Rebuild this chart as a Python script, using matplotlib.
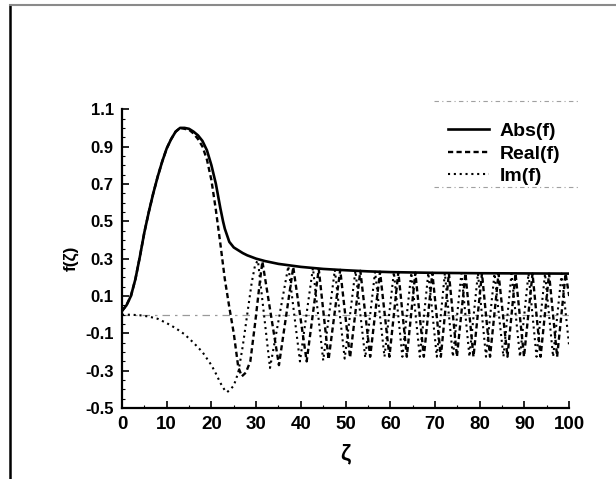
import matplotlib.pyplot as plt
from matplotlib.lines import Line2D
from matplotlib.ticker import MultipleLocator, FixedLocator

# Abs(f)
abs_z = [0, 1, 2, 3, 4, 5, 6, 7, 8, 9, 10, 11, 12, 13, 14, 15, 16, 17, 18, 19, 20, 21, 22,
         22.6, 23, 24, 25, 26, 27, 28, 30, 32, 35, 40, 45, 50, 55, 60, 70, 80, 90, 100]
abs_v = [0.02, 0.05, 0.1, 0.19, 0.31, 0.44, 0.55, 0.65, 0.74, 0.82, 0.89, 0.94, 0.98, 1.0, 1.0,
         0.995, 0.98, 0.96, 0.93, 0.88, 0.8, 0.7, 0.57,
         0.5, 0.46, 0.39, 0.36, 0.345, 0.33, 0.318, 0.3, 0.287, 0.272, 0.256, 0.245, 0.238,
         0.232, 0.228, 0.224, 0.222, 0.221, 0.22]

# Real(f): smooth part, then the peaks / troughs of the oscillation
real_early_z = [0, 1, 2, 3, 4, 5, 6, 7, 8, 9, 10, 11, 12, 13, 14, 15, 16, 17, 18, 19, 20, 21,
                22, 23, 24, 25, 26, 26.8, 27.7, 28.7, 29.8, 30.9, 31.4]
real_early_v = [0.02, 0.05, 0.1, 0.19, 0.31, 0.44, 0.55, 0.65, 0.74, 0.82, 0.89, 0.94, 0.98,
                1.0, 0.995, 0.99, 0.97, 0.94, 0.9, 0.83, 0.72, 0.56, 0.38, 0.19, 0.04, -0.1,
                -0.28, -0.33, -0.31, -0.25, -0.04, 0.19, 0.285]
real_ext_z = [35.1, 38.3, 41.3, 44.0, 46.2, 48.8, 51.0, 53.3, 55.5, 57.7, 59.8, 61.8, 63.7,
              65.6, 67.5, 69.4, 71.3, 73.1, 74.9, 76.8, 78.6, 80.5, 82.3, 84.2, 86.2, 88.0,
              89.9, 91.8, 93.6, 95.5, 97.3, 99.2, 100]
real_ext_v = [-0.27, 0.255, -0.25, 0.245, -0.24, 0.24, -0.23, 0.235, -0.225, 0.23, -0.225,
              0.228, -0.225, 0.225, -0.225, 0.224, -0.225, 0.222, -0.225, 0.222, -0.225, 0.221,
              -0.225, 0.22, -0.225, 0.22, -0.225, 0.22, -0.225, 0.22, -0.225, 0.22, 0.1]

# Im(f)
im_early_z = [0, 2, 4, 6, 8, 10, 12, 14, 16, 18, 20, 21, 22, 23, 23.5, 24.2, 25, 26, 27, 28,
              29, 29.8, 30.4]
im_early_v = [0, 0, -0.003, -0.01, -0.022, -0.045, -0.072, -0.105, -0.15, -0.2, -0.27, -0.315,
              -0.365, -0.405, -0.415, -0.40, -0.38, -0.31, -0.17, 0.0, 0.17, 0.27, 0.29]
im_ext_z = [33.1, 37.2, 39.8, 42.7, 45.0, 47.6, 49.8, 52.2, 54.4, 56.6, 58.7, 60.8, 62.7, 64.7,
            66.6, 68.5, 70.4, 72.2, 74.0, 75.9, 77.7, 79.6, 81.4, 83.3, 85.3, 87.1, 89.0, 90.9,
            92.7, 94.6, 96.4, 98.3, 100]
im_ext_v = [-0.285, 0.26, -0.25, 0.25, -0.245, 0.24, -0.235, 0.235, -0.23, 0.23, -0.225, 0.228,
            -0.225, 0.225, -0.225, 0.224, -0.225, 0.222, -0.225, 0.222, -0.225, 0.221, -0.225,
            0.22, -0.225, 0.22, -0.225, 0.22, -0.225, 0.22, -0.225, 0.22, -0.17]

y_ticks = [-0.5, -0.3, -0.1, 0.1, 0.3, 0.5, 0.7, 0.9, 1.1]
x_ticks = [0, 10, 20, 30, 40, 50, 60, 70, 80, 90, 100]

plt.rcParams['font.family'] = ['Liberation Sans', 'DejaVu Sans']
plt.rcParams['font.weight'] = 'bold'

fig = plt.figure(figsize=(6.16, 4.79), dpi=100)
ax = fig.add_axes([0.198, 0.148, 0.726, 0.624])

ax.axhline(0, color='#9a9a9a', lw=0.9, ls=(0, (6, 4, 2, 4)), zorder=0)
ax.plot(abs_z, abs_v, color='black', lw=1.9, label='Abs(f)')
ax.plot(real_early_z + real_ext_z, real_early_v + real_ext_v, color='black', lw=1.7,
        ls=(0, (2.2, 1.4)), label='Real(f)')
ax.plot(im_early_z + im_ext_z, im_early_v + im_ext_v, color='black', lw=1.5,
        ls=(0, (1, 1.8)), label='Im(f)')

ax.set_xlim(0, 100)
ax.set_ylim(-0.5, 1.1)
ax.xaxis.set_major_locator(FixedLocator(x_ticks))
ax.xaxis.set_minor_locator(MultipleLocator(5))
ax.yaxis.set_major_locator(FixedLocator(y_ticks))
ax.yaxis.set_minor_locator(MultipleLocator(0.05))
ax.set_yticklabels([f'{t:g}' for t in y_ticks])

for s in ['top', 'right']:
    ax.spines[s].set_visible(False)
for s in ['left', 'bottom']:
    ax.spines[s].set_linewidth(1.6)

ax.tick_params(which='major', direction='in', length=5, width=1.2)
ax.tick_params(which='minor', direction='in', length=2.5, width=0.8)
ax.tick_params(axis='x', labelsize=13.5, pad=6)
ax.tick_params(axis='y', labelsize=12, pad=6)

ax.set_xlabel('ζ', fontsize=16, fontweight='bold', labelpad=7)
ax.set_ylabel('f(ζ)', fontsize=12.5, fontweight='bold')
ax.yaxis.set_label_coords(-0.096, 0.5)

fig.legend(loc='upper left', bbox_to_anchor=(0.727, 0.744), frameon=False, fontsize=14,
           handlelength=2.1, handletextpad=0.55, labelspacing=0.25, borderpad=0,
           borderaxespad=0)

# faint box lines round the legend and the scan border
for yy in [101, 187]:
    fig.add_artist(Line2D([434 / 616, 578 / 616], [1 - yy / 479, 1 - yy / 479],
                          transform=fig.transFigure, color='#a0a0a0', lw=0.8,
                          ls=(0, (4, 3, 1, 3))))
fig.add_artist(Line2D([10 / 616, 10 / 616], [0, 1 - 5 / 479], transform=fig.transFigure,
                      color='black', lw=1.8))
fig.add_artist(Line2D([10 / 616, 1], [1 - 5 / 479, 1 - 5 / 479], transform=fig.transFigure,
                      color='#8a8a8a', lw=1.5))

fig.savefig('out.png', dpi=100)
